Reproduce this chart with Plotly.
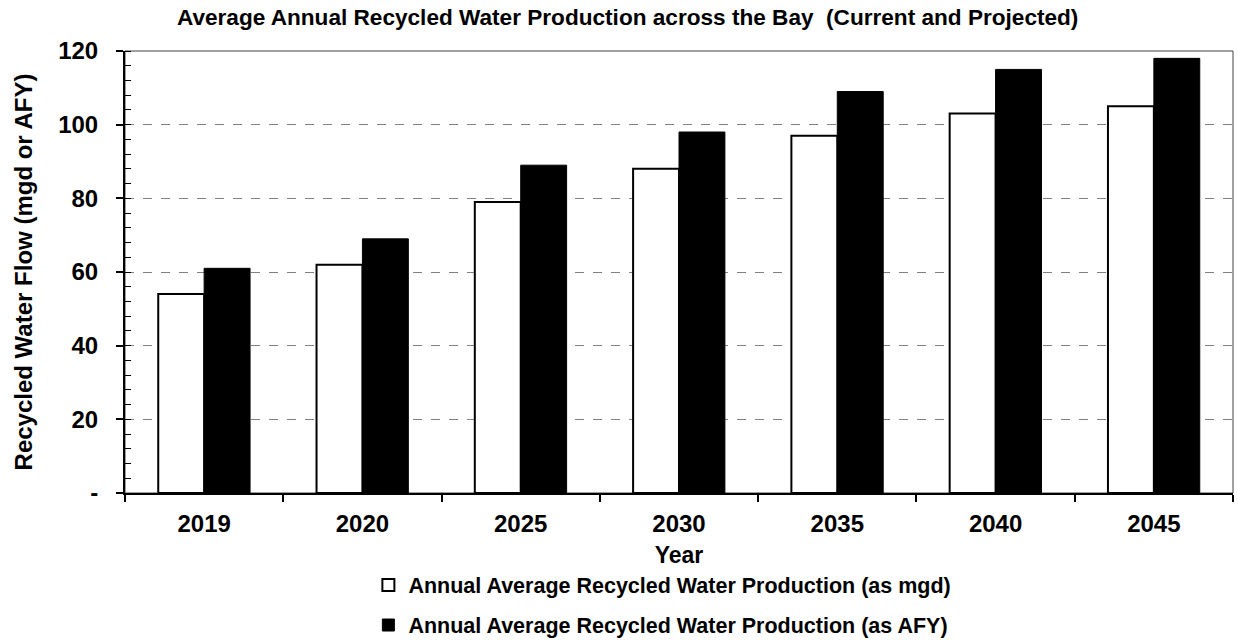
import plotly.graph_objects as go

years = ["2019", "2020", "2025", "2030", "2035", "2040", "2045"]
mgd = [54, 62, 79, 88, 97, 103, 105]
afy = [61, 69, 89, 98, 109, 115, 118]
y_tickvals = [0, 20, 40, 60, 80, 100, 120]
y_ticktext = ["-", "20", "40", "60", "80", "100", "120"]

FONT = "Liberation Sans, Arial, sans-serif"

fig = go.Figure()
fig.add_trace(go.Bar(
    x=years, y=mgd, name="Annual Average Recycled Water Production (as mgd)",
    marker=dict(color="white", line=dict(color="black", width=2)),
    legendgroup="a",
))
fig.add_trace(go.Bar(
    x=years, y=afy, name="Annual Average Recycled Water Production (as AFY)",
    marker=dict(color="black", line=dict(color="black", width=1)),
    legendgroup="b",
))

fig.update_layout(
    width=1238, height=640,
    margin=dict(l=125, r=5, t=51, b=147, autoexpand=False),
    paper_bgcolor="white", plot_bgcolor="white",
    font=dict(family=FONT, color="black", size=22, weight="bold"),
    title=dict(
        text="Average Annual Recycled Water Production across the Bay \u00a0(Current and Projected)",
        x=0.507, xanchor="center", xref="container",
        y=1 - 17 / 640, yanchor="middle", yref="container",
        font=dict(family=FONT, size=22.6, weight="bold", color="black"),
    ),
    barmode="group", bargap=0.42, bargroupgap=0,
    showlegend=True,
    legend=dict(
        orientation="v", x=0.485, xanchor="center", y=-0.162, yanchor="top",
        font=dict(family=FONT, size=21.5, weight="bold", color="black"),
        tracegroupgap=9, traceorder="grouped",
        bgcolor="rgba(0,0,0,0)",
    ),
    xaxis=dict(
        type="category",
        title=dict(text="Year", standoff=11, font=dict(size=23, weight="bold")),
        showline=True, linecolor="black", linewidth=2,
        ticks="outside", ticklen=7, tickcolor="black", tickwidth=1.5,
        tickson="boundaries", showgrid=False,
        tickfont=dict(size=24, weight="bold"),
        ticklabelstandoff=8,
        automargin=False,
    ),
    yaxis=dict(
        range=[0, 120],
        title=dict(text="Recycled Water Flow (mgd or AFY)", standoff=19,
                   font=dict(size=24, weight="bold")),
        tickvals=y_tickvals, ticktext=y_ticktext,
        showline=True, linecolor="black", linewidth=2,
        ticks="outside", ticklen=7, tickcolor="black", tickwidth=1.5,
        showgrid=True, gridcolor="#808080", griddash="dash", gridwidth=1,
        zeroline=False,
        tickfont=dict(size=24, weight="bold"),
        ticklabelstandoff=13,
        automargin=False,
        minor=dict(dtick=4, ticks="inside", ticklen=6, tickcolor="black",
                   tickwidth=1, showgrid=False),
    ),
)

# plot-area frame (top and right edges)
fig.add_shape(type="rect", xref="paper", yref="paper", x0=0, x1=1, y0=0, y1=1,
              line=dict(color="#404040", width=1), layer="below")

fig.write_html("out.html")
